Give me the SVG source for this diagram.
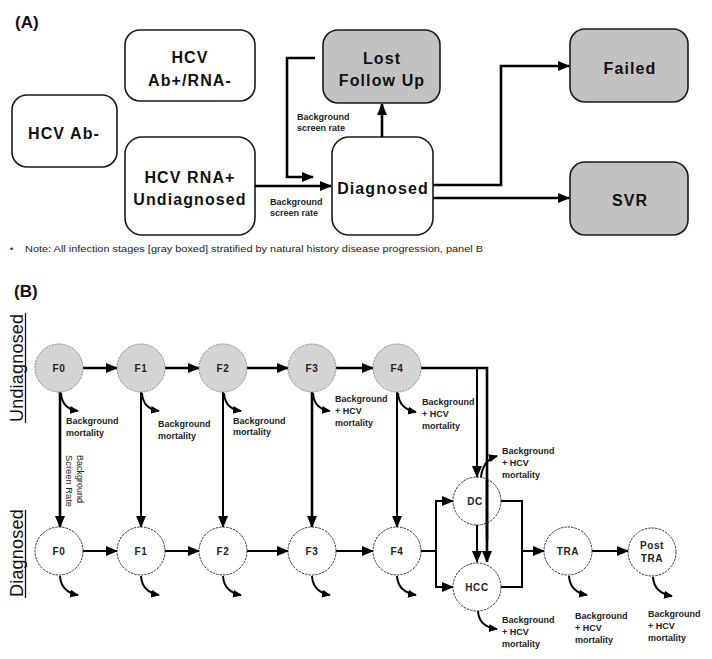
<svg xmlns="http://www.w3.org/2000/svg" width="712" height="659" viewBox="0 0 712 659">
<style>
  .box{fill:#fff;stroke:#1a1a1a;stroke-width:1.6}
  .gbox{fill:#c2c2c2;stroke:#1a1a1a;stroke-width:1.6}
  .bt{font-family:"Liberation Sans",Arial,sans-serif;font-weight:bold;font-size:16px;letter-spacing:1.1px;text-anchor:middle;fill:#111}
  .ttl{font-family:"Liberation Sans",Arial,sans-serif;font-weight:bold;font-size:17px;fill:#111}
  .sm{font-family:"Liberation Sans",Arial,sans-serif;font-weight:bold;font-size:9px;fill:#222}
  .note{font-family:"Liberation Sans",Arial,sans-serif;font-size:9px;fill:#222}
  .side{font-family:"Liberation Sans",Arial,sans-serif;font-size:18px;fill:#111;letter-spacing:0.2px}
  .uc{fill:#d4d4d4;stroke:#8a8a8a;stroke-width:1;stroke-dasharray:2,1}
  .dc{fill:#fff;stroke:#333;stroke-width:1;stroke-dasharray:2.5,1}
  .ct{font-family:"Liberation Sans",Arial,sans-serif;font-weight:bold;font-size:10px;letter-spacing:0.6px;text-anchor:middle;fill:#222}
  .ln{fill:none;stroke:#000;stroke-width:2.6}
  .ln2{fill:none;stroke:#000;stroke-width:2}
  .mo{fill:none;stroke:#000;stroke-width:2}
</style>
<defs>
  <marker id="ah" viewBox="0 0 12 10" refX="11" refY="5" markerWidth="12" markerHeight="10" markerUnits="userSpaceOnUse" orient="auto">
    <path d="M0,0 L12,5 L0,10 z" fill="#000"/>
  </marker>
  <marker id="ahs" viewBox="0 0 10 9" refX="9" refY="4.5" markerWidth="9" markerHeight="8" markerUnits="userSpaceOnUse" orient="auto">
    <path d="M0,0 L10,4.5 L0,9 z" fill="#000"/>
  </marker>
</defs>

<!-- Panel titles -->
<text class="ttl" x="15" y="28">(A)</text>
<text class="ttl" x="14" y="297">(B)</text>

<!-- Panel A nodes -->
<g id="hcv-ab-rna-neg">
  <rect class="box" x="125" y="30" width="130" height="71" rx="15"/>
  <text class="bt" x="190" y="63">HCV</text>
  <text class="bt" x="190" y="86">Ab+/RNA-</text>
</g>
<g id="hcv-ab-neg">
  <rect class="box" x="12" y="95" width="105" height="72" rx="15"/>
  <text class="bt" x="64" y="139">HCV Ab-</text>
</g>
<g id="hcv-rna-undiag">
  <rect class="box" x="125" y="137" width="130" height="98" rx="17"/>
  <text class="bt" x="190" y="183">HCV RNA+</text>
  <text class="bt" x="190" y="205">Undiagnosed</text>
</g>
<g id="lost-follow-up">
  <rect class="gbox" x="323" y="30" width="117" height="73" rx="15"/>
  <text class="bt" x="382" y="64">Lost</text>
  <text class="bt" x="382" y="86">Follow Up</text>
</g>
<g id="diagnosed-a">
  <rect class="box" x="332" y="137" width="101" height="98" rx="17"/>
  <text class="bt" x="383" y="194">Diagnosed</text>
</g>
<g id="failed">
  <rect class="gbox" x="570" y="29" width="118" height="73" rx="15"/>
  <text class="bt" x="630" y="74">Failed</text>
</g>
<g id="svr">
  <rect class="gbox" x="570" y="162" width="118" height="73" rx="15"/>
  <text class="bt" x="630" y="206">SVR</text>
</g>

<!-- Panel A connectors -->
<g id="connectors-a">
  <path class="ln" d="M255,186 H331" marker-end="url(#ah)"/>
  <path class="ln" d="M315,58 H287 V177 H313" marker-end="url(#ah)"/>
  <path class="ln" d="M382,137 V104" marker-end="url(#ah)"/>
  <path class="ln" d="M433,185 H501 V66 H569" marker-end="url(#ah)"/>
  <path class="ln" d="M433,198 H569" marker-end="url(#ah)"/>
</g>
<g id="labels-a">
  <text class="sm" x="297" y="120">Background</text>
  <text class="sm" x="297" y="131">screen rate</text>
  <text class="sm" x="270" y="205">Background</text>
  <text class="sm" x="270" y="216">screen rate</text>
</g>

<!-- Note -->
<g id="note">
  <text class="note" x="10" y="252">•</text>
  <text class="note" x="25" y="252" textLength="458" lengthAdjust="spacingAndGlyphs">Note: All infection stages [gray boxed] stratified by natural history disease progression, panel B</text>
</g>

<!-- Side labels -->
<g id="side-labels">
  <text class="side" transform="translate(23,422) rotate(-90)">Undiagnosed</text>
  <line x1="25.5" y1="313" x2="25.5" y2="423" stroke="#111" stroke-width="1.3"/>
  <text class="side" transform="translate(23,597) rotate(-90)">Diagnosed</text>
  <line x1="25.5" y1="510" x2="25.5" y2="598" stroke="#111" stroke-width="1.3"/>
</g>

<!-- Panel B connectors -->
<g id="connectors-b">
  <!-- undiagnosed progression -->
  <path class="ln" d="M83,368 H117" marker-end="url(#ah)"/>
  <path class="ln" d="M165,368 H199" marker-end="url(#ah)"/>
  <path class="ln" d="M247,368 H288" marker-end="url(#ah)"/>
  <path class="ln" d="M336,368 H373" marker-end="url(#ah)"/>
  <!-- diagnosed progression -->
  <path class="ln2" d="M83,551 H117" marker-end="url(#ah)"/>
  <path class="ln2" d="M165,551 H199" marker-end="url(#ah)"/>
  <path class="ln2" d="M247,551 H288" marker-end="url(#ah)"/>
  <path class="ln2" d="M336,551 H373" marker-end="url(#ah)"/>
  <!-- screening verticals -->
  <path class="ln" d="M60,392 V527" marker-end="url(#ah)"/>
  <path class="ln2" d="M141,392 V527" marker-end="url(#ah)"/>
  <path class="ln2" d="M223,392 V527" marker-end="url(#ah)"/>
  <path class="ln" d="M312,392 V527" marker-end="url(#ah)"/>
  <path class="ln2" d="M397,392 V527" marker-end="url(#ah)"/>
  <!-- undiagnosed F4 to DC / HCC -->
  <path class="ln" d="M421,368 H487 V562" marker-end="url(#ah)"/>
  <path class="ln2" d="M477,369 V477" marker-end="url(#ah)"/>
  <!-- diagnosed F4 to DC / HCC -->
  <path class="ln2" d="M421,551 H436"/>
  <path class="ln2" d="M436,551 V501 H453" marker-end="url(#ah)"/>
  <path class="ln2" d="M436,551 V587 H453" marker-end="url(#ah)"/>
  <!-- DC to HCC -->
  <path class="ln2" d="M477,525 V562" marker-end="url(#ah)"/>
  <!-- DC/HCC to TRA -->
  <path class="ln2" d="M501,501 H522 V587 H501"/>
  <path class="ln2" d="M522,551 H544" marker-end="url(#ah)"/>
  <!-- TRA to Post TRA -->
  <path class="ln2" d="M592,551 H628" marker-end="url(#ah)"/>
  <!-- mortality arrows -->
  <path class="mo" d="M61,393 Q62,409 78,411" marker-end="url(#ahs)"/>
  <path class="mo" d="M142,393 Q143,409 159,411" marker-end="url(#ahs)"/>
  <path class="mo" d="M224,393 Q225,409 241,411" marker-end="url(#ahs)"/>
  <path class="mo" d="M313,393 Q314,409 330,411" marker-end="url(#ahs)"/>
  <path class="mo" d="M398,393 Q399,409 416,412" marker-end="url(#ahs)"/>
  <path class="mo" d="M60,576 Q61,592 78,595" marker-end="url(#ahs)"/>
  <path class="mo" d="M141,576 Q142,592 159,595" marker-end="url(#ahs)"/>
  <path class="mo" d="M223,576 Q224,592 241,595" marker-end="url(#ahs)"/>
  <path class="mo" d="M312,576 Q313,592 330,595" marker-end="url(#ahs)"/>
  <path class="mo" d="M397,576 Q398,592 416,595" marker-end="url(#ahs)"/>
  <path class="mo" d="M481,477 Q483,460 497,456" marker-end="url(#ahs)"/>
  <path class="mo" d="M478,611 Q479,627 497,629" marker-end="url(#ahs)"/>
  <path class="mo" d="M569,576 Q570,592 587,595" marker-end="url(#ahs)"/>
  <path class="mo" d="M653,577 Q654,593 672,596" marker-end="url(#ahs)"/>
</g>

<!-- Panel B nodes: undiagnosed -->
<g id="u-f0"><circle class="uc" cx="59" cy="368" r="24"/><text class="ct" x="59" y="372">F0</text></g>
<g id="u-f1"><circle class="uc" cx="141" cy="368" r="24"/><text class="ct" x="141" y="372">F1</text></g>
<g id="u-f2"><circle class="uc" cx="223" cy="368" r="24"/><text class="ct" x="223" y="372">F2</text></g>
<g id="u-f3"><circle class="uc" cx="312" cy="368" r="24"/><text class="ct" x="312" y="372">F3</text></g>
<g id="u-f4"><circle class="uc" cx="397" cy="368" r="24"/><text class="ct" x="397" y="372">F4</text></g>

<!-- Panel B nodes: diagnosed -->
<g id="d-f0"><circle class="dc" cx="59" cy="551" r="24"/><text class="ct" x="59" y="555">F0</text></g>
<g id="d-f1"><circle class="dc" cx="141" cy="551" r="24"/><text class="ct" x="141" y="555">F1</text></g>
<g id="d-f2"><circle class="dc" cx="223" cy="551" r="24"/><text class="ct" x="223" y="555">F2</text></g>
<g id="d-f3"><circle class="dc" cx="312" cy="551" r="24"/><text class="ct" x="312" y="555">F3</text></g>
<g id="d-f4"><circle class="dc" cx="397" cy="551" r="24"/><text class="ct" x="397" y="555">F4</text></g>
<g id="dc"><circle class="dc" cx="477" cy="501" r="24" fill-opacity="0"/><text class="ct" x="475" y="505">DC</text></g>
<g id="hcc"><circle class="dc" cx="477" cy="587" r="24"/><text class="ct" x="477" y="591">HCC</text></g>
<g id="tra"><circle class="dc" cx="568" cy="551" r="24"/><text class="ct" x="568" y="555">TRA</text></g>
<g id="post-tra"><circle class="dc" cx="652" cy="552" r="24"/><text class="ct" x="652" y="549">Post</text><text class="ct" x="652" y="562">TRA</text></g>

<!-- redraw line passing over DC -->
<g id="connectors-b-over">
  <path class="ln" d="M487,480 V540"/>
</g>

<!-- Panel B labels -->
<g id="labels-b">
  <text class="sm" x="66" y="424">Background</text>
  <text class="sm" x="66" y="436">mortality</text>
  <text class="sm" x="158" y="427">Background</text>
  <text class="sm" x="158" y="439">mortality</text>
  <text class="sm" x="233" y="424">Background</text>
  <text class="sm" x="233" y="435">mortality</text>
  <text class="sm" x="335" y="402">Background</text>
  <text class="sm" x="335" y="414">+ HCV</text>
  <text class="sm" x="335" y="426">mortality</text>
  <text class="sm" x="422" y="405">Background</text>
  <text class="sm" x="422" y="417">+ HCV</text>
  <text class="sm" x="422" y="429">mortality</text>
  <text class="sm" x="502" y="454">Background</text>
  <text class="sm" x="502" y="466">+ HCV</text>
  <text class="sm" x="502" y="478">mortality</text>
  <text class="sm" x="502" y="623">Background</text>
  <text class="sm" x="502" y="635">+ HCV</text>
  <text class="sm" x="502" y="647">mortality</text>
  <text class="sm" x="575" y="619">Background</text>
  <text class="sm" x="575" y="631">+ HCV</text>
  <text class="sm" x="575" y="643">mortality</text>
  <text class="sm" x="648" y="617">Background</text>
  <text class="sm" x="648" y="629">+ HCV</text>
  <text class="sm" x="648" y="641">mortality</text>
  <text class="note" transform="translate(77,455) rotate(90)" textLength="48" lengthAdjust="spacingAndGlyphs">Background</text>
  <text class="note" transform="translate(66,455) rotate(90)" textLength="52" lengthAdjust="spacingAndGlyphs">Screen Rate</text>
</g>
</svg>
